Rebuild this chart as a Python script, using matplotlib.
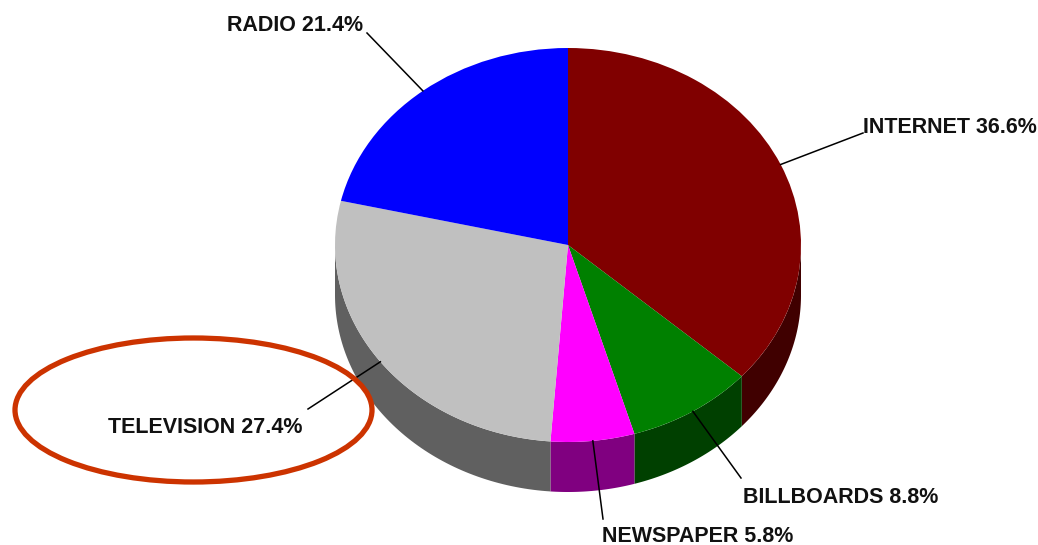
import numpy as np
import matplotlib
matplotlib.use("Agg")
import matplotlib.pyplot as plt
from matplotlib.patches import Ellipse

# media share
labels = ["INTERNET", "BILLBOARDS", "NEWSPAPER", "TELEVISION", "RADIO"]
shares = [36.6, 8.8, 5.8, 27.4, 21.4]
top_colors = ["#800000", "#008000", "#FF00FF", "#C0C0C0", "#0000FF"]
side_colors = ["#400000", "#004000", "#800080", "#606060", "#000080"]

W, H = 1038, 545
CX, CY = 568, 245      # pie centre (pixels, from top)
RX, RY = 233, 197      # ellipse radii in pixels
DEPTH = 50             # extrusion in pixels

# label anchor (end of leader line) and text baseline position, in pixels
leader_end = [(863, 133), (741, 478), (603, 519), (308, 409), (367, 33)]
text_pos = [(863, 133, "left"), (743, 503, "left"), (602, 542, "left"),
            (303, 433, "right"), (363, 31, "right")]


def px(x, y):
    # pixel position -> data coords of the pie axes
    return (x - CX) / RX, (CY - y) / RY


fig = plt.figure(figsize=(W / 100, H / 100), dpi=100)
ax = fig.add_axes([0, 0, 1, 1])

wedges, _ = ax.pie(shares, colors=top_colors, startangle=90, counterclock=False,
                   radius=1, center=(0, 0),
                   wedgeprops=dict(linewidth=0, zorder=3))
ax.set_aspect("auto")
ax.set_xlim(-CX / RX, (W - CX) / RX)
ax.set_ylim(-(H - CY) / RY, CY / RY)
ax.axis("off")

d = DEPTH / RY
for w, col in zip(wedges, side_colors):
    a, b = w.theta1, w.theta2
    # only the front half (lower half of the ellipse) shows its side
    for k in (-360, 0, 360):
        lo, hi = max(a + k, -180), min(b + k, 0)
        if hi - lo > 0.01:
            t = np.radians(np.linspace(lo, hi, 80))
            x, y = np.cos(t), np.sin(t)
            ax.fill(np.r_[x, x[::-1]], np.r_[y, y[::-1] - d], color=col,
                    lw=0, zorder=2)

font = dict(family=["Liberation Sans", "DejaVu Sans"], weight="bold",
            size=15.5, color="#111111")
for w, lab, val, end, tp in zip(wedges, labels, shares, leader_end, text_pos):
    mid = np.radians((w.theta1 + w.theta2) / 2)
    ex, ey = np.cos(mid), np.sin(mid)
    lx, ly = px(*end)
    ax.plot([ex, lx], [ey, ly], color="black", lw=1.1, zorder=4)
    tx, ty = px(tp[0], tp[1])
    ax.text(tx, ty, f"{lab} {val}%", ha=tp[2], va="baseline", zorder=5, **font)

# highlight ring around the television label
ex0, ey0 = px(193.5, 410)
ring = Ellipse((ex0, ey0), 357 / RX, 144 / RY, fill=False,
               edgecolor="#CC3300", lw=3.8, zorder=6)
ax.add_patch(ring)

fig.savefig("out.png", dpi=100, facecolor="white")
